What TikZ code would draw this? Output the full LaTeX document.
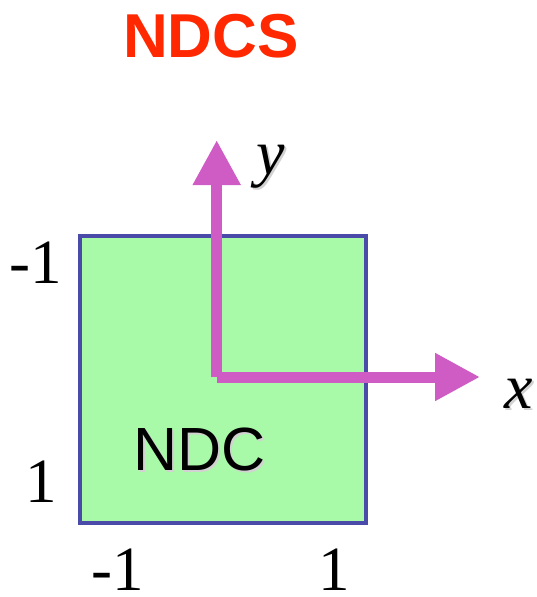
\documentclass[tikz,border=0pt]{standalone}
\usepackage{fontspec}
\setmainfont{Liberation Serif}
\setsansfont{Liberation Sans}
\usetikzlibrary{arrows.meta}
\definecolor{ndcgreen}{RGB}{168,250,168}
\definecolor{ndcblue}{RGB}{74,74,168}
\definecolor{axmag}{RGB}{207,92,196}
\definecolor{titlered}{RGB}{255,40,0}
\definecolor{shad}{RGB}{210,210,210}
\tikzset{
  axis/.style={draw=axmag, line width=11pt, -{Triangle[width=45pt,length=45pt]}},
  numlbl/.style={font=\fontsize{63}{63}\selectfont, anchor=base, inner sep=0pt, text depth=0pt},
  axlbl/.style={font=\fontsize{64}{64}\selectfont\itshape, anchor=base, inner sep=0pt},
}
\begin{document}
\begin{tikzpicture}[x=1pt,y=-1pt]
\useasboundingbox (0,0) rectangle (537,597);
\node[draw=ndcblue, line width=3.2pt, fill=ndcgreen, minimum width=286pt, minimum height=287pt, inner sep=0pt] (box) at (223,379.5) {};
\node[font=\sffamily\bfseries\fontsize{62}{62}\selectfont, text=titlered, anchor=base, inner sep=0pt] (title) at (211,57) {NDCS};
\node[font=\sffamily\fontsize{61}{61}\selectfont, text=shad, anchor=base, inner sep=0pt] (ndcs) at (201.5,472) {NDC};
\node[font=\sffamily\fontsize{61}{61}\selectfont, anchor=base, inner sep=0pt] (ndc) at (199.5,470) {NDC};
\coordinate (o) at (216.7,377);
\coordinate (ytip) at (216.7,140);
\coordinate (xtip) at (480,377);
\draw[axis] (o) -- (ytip);
\draw[axis] (o) -- (xtip);
\node[axlbl, text=shad] (ys) at (273,176) {y};
\node[axlbl] (ylbl) at (271,174) {y};
\node[axlbl, text=shad] (xs) at (521,410) {x};
\node[axlbl] (xlbl) at (519,408) {x};
\node[numlbl] (ltop) at (36,283) {-1};
\node[numlbl] (lbot) at (41,502) {1};
\node[numlbl] (bl) at (118,590) {-1};
\node[numlbl] (br) at (334,590) {1};
\end{tikzpicture}
\end{document}
